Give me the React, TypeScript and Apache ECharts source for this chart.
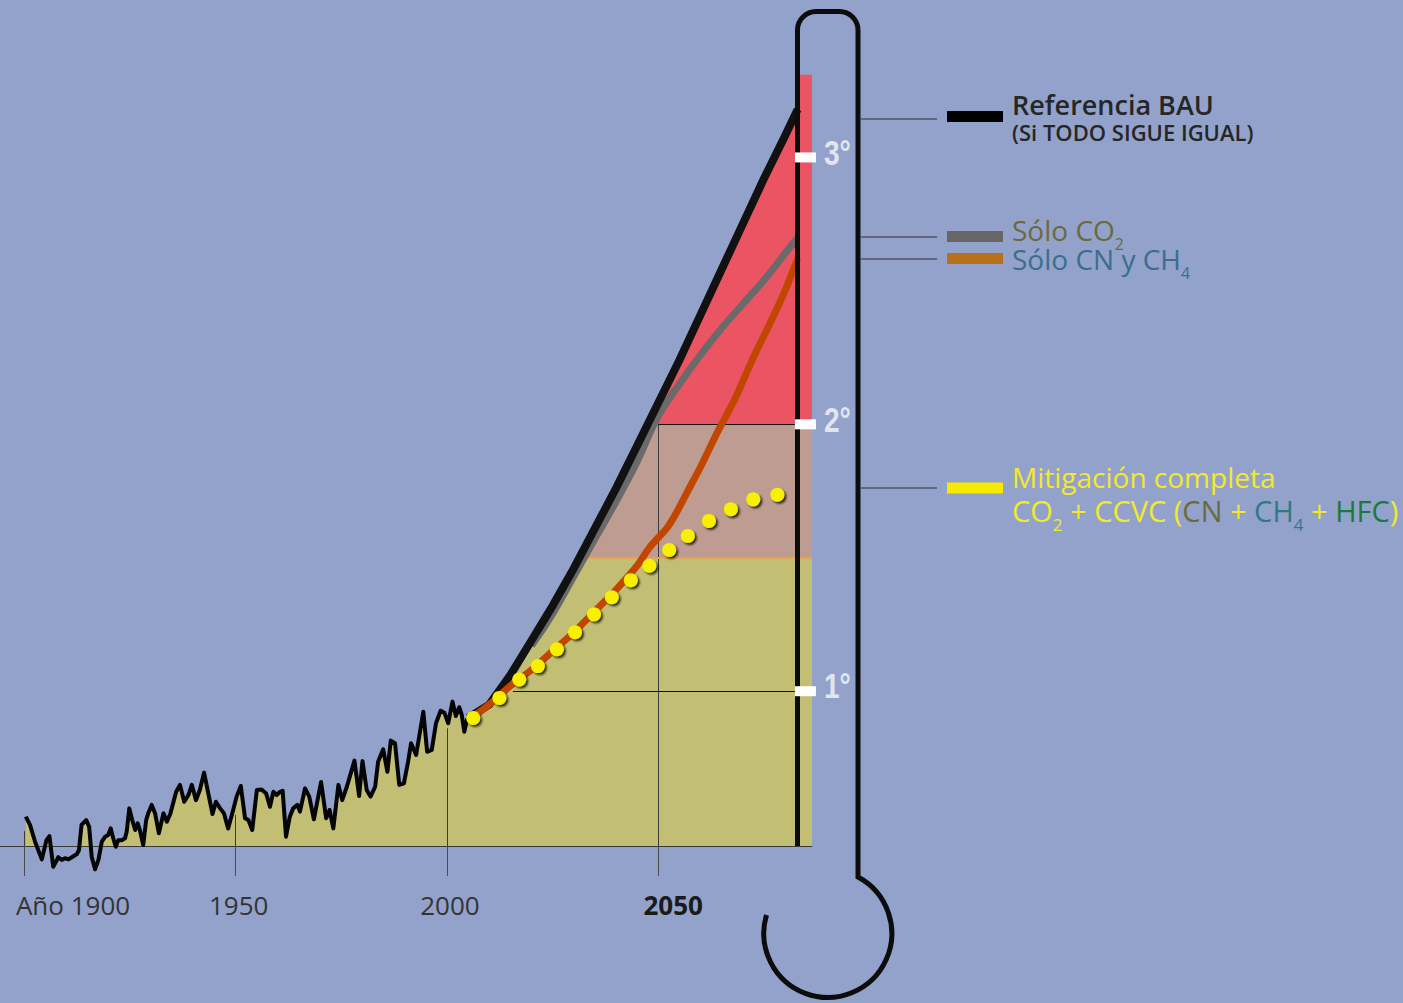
import React, { useEffect, useRef } from 'react';
import * as echarts from 'echarts';

// ---------- DATA ----------
const histYears = [
  1900.3, 1901.3, 1902.5, 1904.1, 1905.2, 1905.9, 1906.8, 1908.0, 1908.8, 1909.6,
  1910.4, 1911.2, 1912.4, 1912.9, 1913.5, 1914.6, 1915.3, 1915.9, 1916.7, 1917.5,
  1918.3, 1919.1, 1919.8, 1920.4, 1921.0, 1921.6, 1922.2, 1923.0, 1923.8, 1924.2,
  1924.8, 1925.5, 1926.2, 1926.8, 1927.3, 1928.1, 1928.8, 1929.3, 1930.1, 1930.9,
  1931.8, 1932.9, 1933.7, 1934.5, 1935.9, 1936.8, 1937.8, 1938.8, 1939.6, 1940.6,
  1941.5, 1942.5, 1943.5, 1944.5, 1945.3, 1946.3, 1947.2, 1948.2, 1949.3, 1950.2,
  1951.2, 1952.2, 1953.0, 1953.9, 1955.0, 1956.1, 1957.2, 1958.1, 1958.9, 1959.7,
  1960.5, 1961.1, 1961.9, 1962.8, 1963.6, 1964.6, 1965.2, 1966.4, 1967.4, 1968.5,
  1969.3, 1970.2, 1971.4, 1972.2, 1973.1, 1974.3, 1975.2, 1976.3, 1977.0, 1978.1,
  1979.2, 1980.0, 1981.0, 1981.9, 1983.0, 1983.7, 1984.9, 1985.9, 1986.7, 1987.7,
  1988.7, 1989.8, 1990.8, 1991.5, 1992.7, 1994.4, 1995.3, 1996.4, 1997.4, 1998.5,
  1999.4, 2000.3, 2001.3, 2002.1, 2002.9, 2003.5, 2004.1, 2004.8,
];
const histTemps = [
  0.530, 0.499, 0.436, 0.370, 0.442, 0.457, 0.342, 0.378, 0.368, 0.374,
  0.370, 0.378, 0.390, 0.405, 0.499, 0.517, 0.492, 0.380, 0.333, 0.368,
  0.436, 0.455, 0.461, 0.486, 0.449, 0.417, 0.442, 0.442, 0.449, 0.474,
  0.561, 0.517, 0.480, 0.505, 0.480, 0.424, 0.517, 0.543, 0.574, 0.543,
  0.468, 0.543, 0.511, 0.540, 0.623, 0.649, 0.586, 0.611, 0.649, 0.592,
  0.630, 0.695, 0.617, 0.540, 0.586, 0.561, 0.543, 0.486, 0.549, 0.605,
  0.645, 0.524, 0.517, 0.480, 0.630, 0.632, 0.617, 0.567, 0.623, 0.611,
  0.623, 0.627, 0.455, 0.530, 0.561, 0.574, 0.549, 0.636, 0.605, 0.520,
  0.586, 0.660, 0.524, 0.555, 0.486, 0.649, 0.592, 0.642, 0.680, 0.740,
  0.607, 0.738, 0.630, 0.605, 0.642, 0.736, 0.782, 0.698, 0.815, 0.805,
  0.649, 0.655, 0.736, 0.805, 0.761, 0.923, 0.773, 0.780, 0.880, 0.927,
  0.919, 0.880, 0.961, 0.907, 0.940, 0.911, 0.848, 0.898,
];

// Referencia BAU
const bauYears = [2005, 2010, 2015, 2020, 2025, 2030, 2035, 2040, 2045, 2050, 2055, 2060, 2065, 2070, 2075, 2080, 2083];
const bauTemps = [0.90, 0.95, 1.06, 1.19, 1.32, 1.46, 1.61, 1.76, 1.92, 2.08, 2.24, 2.41, 2.58, 2.75, 2.92, 3.08, 3.18];

// Sólo CO2
const co2Years = [2020, 2025, 2030, 2035, 2040, 2045, 2050, 2055, 2060, 2065, 2070, 2075, 2080, 2083];
const co2Temps = [1.17, 1.29, 1.43, 1.57, 1.71, 1.86, 2.03, 2.15, 2.26, 2.36, 2.45, 2.54, 2.64, 2.70];

// Sólo CN y CH4
const cnYears = [2005, 2010, 2015, 2020, 2025, 2030, 2035, 2040, 2045, 2048, 2052, 2054, 2057, 2060, 2064, 2068, 2072.5, 2076.5, 2080, 2083];
const cnTemps = [0.89, 0.95, 1.02, 1.08, 1.15, 1.22, 1.30, 1.38, 1.47, 1.54, 1.61, 1.66, 1.75, 1.84, 1.97, 2.09, 2.25, 2.38, 2.50, 2.62];

// Mitigación completa
const mitYears = [2006.2, 2012.4, 2017.1, 2021.5, 2026.0, 2030.3, 2034.8, 2039.0, 2043.5, 2047.9, 2052.6, 2057.0, 2062.0, 2067.2, 2072.5, 2078.2];
const mitTemps = [0.900, 0.975, 1.044, 1.094, 1.157, 1.221, 1.288, 1.352, 1.416, 1.470, 1.529, 1.582, 1.638, 1.682, 1.719, 1.736];

// Thermometer column top (mercury) and year of the thermometer wall
const mercuryTop = 3.31;
const thermoYear = 2083;

// Temperature bands (1.5 °C and 2 °C)
const bandLimits = [1.5, 2];
const degreeTicks = [1, 2, 3];

// X tick labels
const xTickYears = [1900, 1950, 2000, 2050];
const xTickLabels = ['Año 1900', '1950', '2000', '2050'];

// Vertical guide tops (in °C) for each tick year
const guideTops = [0.476, 0.536, 0.861, 2.0];
// Horizontal guides: [level, fromYear, toYear]
const hGuides = [
  [1, 2015.6, 2083],
  [2, 2050, 2083],
];

// ---------- LAYOUT / STYLE ----------
const X_MIN = 1894.2;
const X_MAX = 2086.4;
const Y_MIN = 0.42;
const Y_MAX = 3.5;
const MARKER_YEAR = 2084.85;
const BG = '#93a2cb';
const OLIVE = '#c2bf74';
const BROWN = '#bf9c91';
const RED = '#eb5462';
const SANS = '"Open Sans", "Noto Sans", sans-serif';
const COND = '"Liberation Sans", Arial, sans-serif';

const pairs = (xs: number[], ys: number[]) => xs.map((x, i) => [x, ys[i]]);

function crossingYear(xs: number[], ys: number[], level: number) {
  for (let i = 1; i < xs.length; i++) {
    if (ys[i - 1] < level && ys[i] >= level) {
      const t = (level - ys[i - 1]) / (ys[i] - ys[i - 1]);
      return xs[i - 1] + t * (xs[i] - xs[i - 1]);
    }
  }
  return xs[0];
}

let shapeRegistered = false;
function registerThermo() {
  if (shapeRegistered) return;
  const d =
    'M797.5 846 L797.5 30 A18.5 18.5 0 0 1 816 11.5 L839.5 11.5 A18.5 18.5 0 0 1 858 30 L858 877 A64 64 0 1 1 766.5 915';
  echarts.graphic.registerShape('thermo', echarts.graphic.extendPath(d, {}));
  shapeRegistered = true;
}

export default function App() {
  const ref = useRef<HTMLDivElement>(null);

  useEffect(() => {
    if (!ref.current) return;
    document.body.style.margin = '0';
    document.body.style.background = BG;
    registerThermo();
    const chart = echarts.init(ref.current, null, { renderer: 'svg' });

    const hist = pairs(histYears, histTemps);
    const bau = pairs(bauYears, bauTemps);
    const envelope = [
      ...hist,
      ...bau,
      [thermoYear, mercuryTop],
      [X_MAX, mercuryTop],
    ];
    const cross15 = crossingYear(bauYears, bauTemps, bandLimits[0]);

    const guideLines: any[] = [
      ...xTickYears.map((yr, i) => [
        { coord: [yr, guideTops[i]], lineStyle: { color: '#3b3b3b', width: 1, type: 'solid' } },
        { coord: [yr, Y_MIN] },
      ]),
      ...hGuides.map((g) => [
        { coord: [g[1], g[0]], lineStyle: { color: '#111', width: 1, type: 'solid' } },
        { coord: [g[2], g[0]] },
      ]),
      [
        { coord: [cross15, bandLimits[0]], lineStyle: { color: '#e2a54c', width: 2, type: 'solid' } },
        { coord: [X_MAX, bandLimits[0]] },
      ],
    ];

    const labelPad = [97, 6, 6, 30];
    const rich: any = {};
    xTickLabels.forEach((_, i) => {
      rich['t' + i] = {
        fontSize: 26,
        lineHeight: 30,
        fontFamily: SANS,
        color: i === 3 ? '#1a1a1a' : '#333333',
        fontWeight: i === 3 ? 'bold' : 'normal',
        padding: [0, 0, 0, labelPad[i]],
      };
    });

    const option: any = {
      animation: false,
      backgroundColor: BG,
      grid: { left: 0, right: 1403 - 812, top: 24, bottom: 157, containLabel: false, outerBoundsMode: 'none' },
      xAxis: {
        type: 'value', min: X_MIN, max: X_MAX, z: 10,
        axisLine: { show: true, onZero: false, lineStyle: { color: '#3a3a3a', width: 1 } },
        axisTick: { show: true, customValues: xTickYears, length: 30, lineStyle: { color: '#4a4a4a', width: 1 } },
        axisLabel: {
          show: true, customValues: xTickYears, margin: 44,
          formatter: (val: number) => {
            const i = xTickYears.indexOf(Math.round(val));
            return i < 0 ? '' : `{t${i}|${xTickLabels[i]}}`;
          },
          rich,
        },
        splitLine: { show: false },
      },
      yAxis: { type: 'value', min: Y_MIN, max: Y_MAX, show: false, splitLine: { show: false } },
      visualMap: {
        type: 'piecewise', show: false, seriesIndex: 0, dimension: 1,
        pieces: [
          { lt: bandLimits[0], color: OLIVE },
          { gte: bandLimits[0], lt: bandLimits[1], color: BROWN },
          { gte: bandLimits[1], color: RED },
        ],
      },
      series: [
        {
          name: 'envelope', type: 'line', data: envelope, symbol: 'none', showSymbol: false,
          lineStyle: { width: 0 }, areaStyle: { opacity: 1 }, z: 1, silent: true,
        },
        {
          name: 'Sólo CO2', type: 'line', data: pairs(co2Years, co2Temps), smooth: 0.5, symbol: 'none',
          lineStyle: { color: '#6a6a6a', width: 7 }, z: 10, silent: true,
          markLine: {
            silent: true, z: 2, symbol: ['none', 'none'], label: { show: false },
            emphasis: { disabled: true }, data: guideLines,
          },
        },
        {
          name: 'Referencia BAU', type: 'line', data: bau, symbol: 'none',
          lineStyle: { color: '#111111', width: 8, join: 'round' }, z: 11, silent: true,
        },
        {
          name: 'Histórico', type: 'line', data: hist, symbol: 'none', clip: false,
          lineStyle: { color: '#050505', width: 4, join: 'round' }, z: 11, silent: true,
        },
        {
          name: 'Sólo CN y CH4', type: 'line', data: pairs(cnYears, cnTemps), smooth: 0.3, symbol: 'none',
          lineStyle: { color: '#c14600', width: 7 }, z: 12, silent: true,
        },
        {
          name: 'Mitigación completa', type: 'scatter', data: pairs(mitYears, mitTemps), symbolSize: 14,
          itemStyle: {
            color: '#f8f000', opacity: 1,
            shadowColor: 'rgba(0,0,0,0.75)', shadowBlur: 2, shadowOffsetX: 2, shadowOffsetY: 2,
          },
          z: 13, silent: true,
        },
        {
          name: 'grados', type: 'scatter', data: degreeTicks.map((v) => [MARKER_YEAR, v]),
          symbol: 'rect', symbolSize: [21, 10], itemStyle: { color: '#ffffff', opacity: 1 }, z: 21, silent: true,
        },
      ],
    };

    chart.setOption(option);

    // ----- graphic overlay (thermometer, legend, degree labels) -----
    const mainTok = (color: string, size = 28) => ({
      fill: color, color, fontSize: size, fontFamily: SANS, lineHeight: 32, verticalAlign: 'middle',
    });
    const subTok = (color: string, size = 16) => ({
      fill: color, color, fontSize: size, fontFamily: SANS, lineHeight: 32, verticalAlign: 'middle', padding: [28, 0, 0, 0],
    });

    const YEL = '#f3e92c';
    const OLT = '#6b6a3c';
    const TEAL = '#3b6e8b';
    const TEAL2 = '#2f7a80';
    const GRN = '#1b7a3a';

    const connectorYs = [119, 237, 259, 488];
    const swatches = [
      { y: 116.5, color: '#000000' },
      { y: 236.5, color: '#666666' },
      { y: 258.5, color: '#b8711a' },
      { y: 488, color: '#f5ea00' },
    ];

    const degLabels = degreeTicks.map((v) => {
      const p = chart.convertToPixel({ xAxisIndex: 0, yAxisIndex: 0 }, [MARKER_YEAR, v]) as number[];
      return {
        type: 'text', x: 824, y: p[1] - 5, scaleX: 0.78, z: 22, silent: true,
        style: {
          text: `${v}°`, fill: '#e1e5f0', fontSize: 36, fontWeight: 'bold', fontFamily: COND,
          verticalAlign: 'middle', align: 'left',
        },
      };
    });

    const graphicEls: any[] = [
      {
        type: 'thermo', x: 0, y: 0, z: 20, silent: true,
        style: { fill: 'none', stroke: '#0c0c0c', lineWidth: 5 },
      },
      ...connectorYs.map((y) => ({
        type: 'line', z: 20, silent: true,
        shape: { x1: 861, y1: y, x2: 937, y2: y },
        style: { stroke: '#2e2e2e', lineWidth: 1 },
      })),
      ...swatches.map((s) => ({
        type: 'rect', z: 20, silent: true,
        shape: { x: 947, y: s.y - 5.5, width: 56, height: 11 },
        style: { fill: s.color },
      })),
      {
        type: 'text', x: 1012, y: 104, z: 20, silent: true,
        style: { text: 'Referencia BAU', fill: '#262626', fontSize: 27, fontFamily: SANS, fontWeight: 600, verticalAlign: 'middle' },
      },
      {
        type: 'text', x: 1012, y: 132, z: 20, silent: true,
        style: { text: '(Si TODO SIGUE IGUAL)', fill: '#262626', fontSize: 22, fontFamily: SANS, fontWeight: 600, verticalAlign: 'middle' },
      },
      {
        type: 'text', x: 1012, y: 230, z: 20, silent: true,
        style: {
          text: '{m|Sólo CO}{s|2}', verticalAlign: 'middle',
          rich: { m: mainTok(OLT), s: subTok(OLT) },
        },
      },
      {
        type: 'text', x: 1012, y: 259, z: 20, silent: true,
        style: {
          text: '{m|Sólo CN y CH}{s|4}', verticalAlign: 'middle',
          rich: { m: mainTok(TEAL), s: subTok(TEAL) },
        },
      },
      {
        type: 'text', x: 1012, y: 477, z: 20, silent: true,
        style: { text: 'Mitigación completa', fill: YEL, fontSize: 28, fontFamily: SANS, verticalAlign: 'middle' },
      },
      {
        type: 'text', x: 1012, y: 510, z: 20, silent: true,
        style: {
          text: '{y|CO}{ys|2}{y| + CCVC (}{o|CN}{y| + }{t|CH}{ts|4}{y| + }{g|HFC}{y|)}',
          verticalAlign: 'middle',
          rich: {
            y: mainTok(YEL, 29), ys: subTok(YEL, 17), o: mainTok(OLT, 29),
            t: mainTok(TEAL2, 29), ts: subTok(TEAL2, 17), g: mainTok(GRN, 29),
          },
        },
      },
      ...degLabels,
    ];

    chart.setOption({ graphic: { elements: graphicEls } });
    return () => chart.dispose();
  }, []);

  return (
    <div
      ref={ref}
      style={{ position: 'fixed', left: 0, top: 0, width: 1403, height: 1003, background: BG }}
    />
  );
}
